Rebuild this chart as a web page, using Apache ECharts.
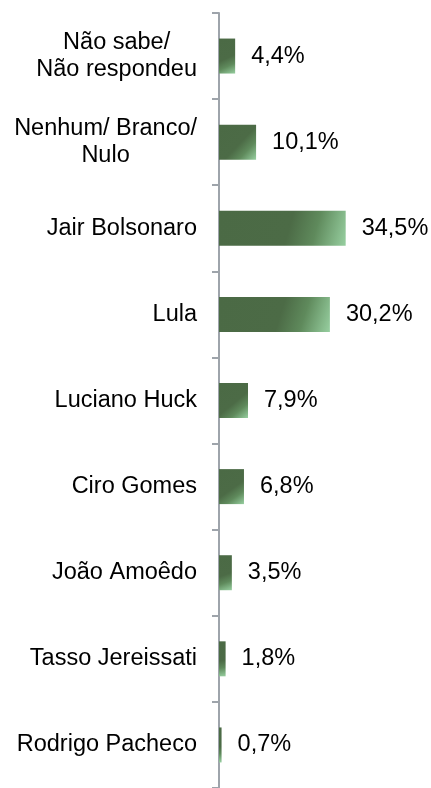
<!DOCTYPE html>
<html>
<head>
<meta charset="utf-8">
<script src="https://cdn.jsdelivr.net/npm/echarts@6/dist/echarts.min.js"></script>
<style>
html,body{margin:0;padding:0;background:#fff;}
#chart{width:431px;height:788px;}
</style>
</head>
<body>
<div id="chart"></div>
<script>
const categories = ['Não sabe/\nNão respondeu', 'Nenhum/ Branco/\nNulo', 'Jair Bolsonaro', 'Lula', 'Luciano Huck', 'Ciro Gomes', 'João Amoêdo', 'Tasso Jereissati', 'Rodrigo Pacheco'];
const values = [4.4, 10.1, 34.5, 30.2, 7.9, 6.8, 3.5, 1.8, 0.7];

const chart = echarts.init(document.getElementById('chart'));
const FONT = '"Liberation Sans", Arial, sans-serif';
chart.setOption({
  animation: false,
  backgroundColor: '#ffffff',
  grid: { left: 219, top: 13, width: 183.6, height: 783, containLabel: false },
  xAxis: { type: 'value', min: 0, max: 50, show: false },
  yAxis: {
    type: 'category',
    data: categories,
    inverse: true,
    axisLine: { show: true, lineStyle: { color: '#9ea4ab', width: 2 } },
    axisTick: { show: true, length: 7, lineStyle: { color: '#9ea4ab', width: 2 } },
    axisLabel: {
      margin: 22,
      align: 'right',
      fontSize: 23.5,
      fontFamily: FONT,
      color: '#000',
      formatter: function (v) {
        return v.split('\n').map(function (s) { return '{c|' + s + '}'; }).join('\n');
      },
      rich: { c: { align: 'center', fontSize: 23.5, fontFamily: FONT, color: '#000', lineHeight: 27 } }
    },
    splitLine: { show: false }
  },
  series: [{
    type: 'bar',
    data: values,
    barWidth: 35,
    itemStyle: {
      color: new echarts.graphic.LinearGradient(0, 0, 1, 1, [
        { offset: 0, color: '#4b6a45' },
        { offset: 0.55, color: '#4c6b46' },
        { offset: 0.75, color: '#5f8a5c' },
        { offset: 1, color: '#97cfa0' }
      ])
    },
    label: {
      show: true,
      position: 'right',
      distance: 16,
      fontSize: 23.5,
      fontFamily: FONT,
      color: '#000',
      formatter: function (p) { return p.value.toFixed(1).replace('.', ',') + '%'; }
    }
  }]
});
</script>
</body>
</html>
